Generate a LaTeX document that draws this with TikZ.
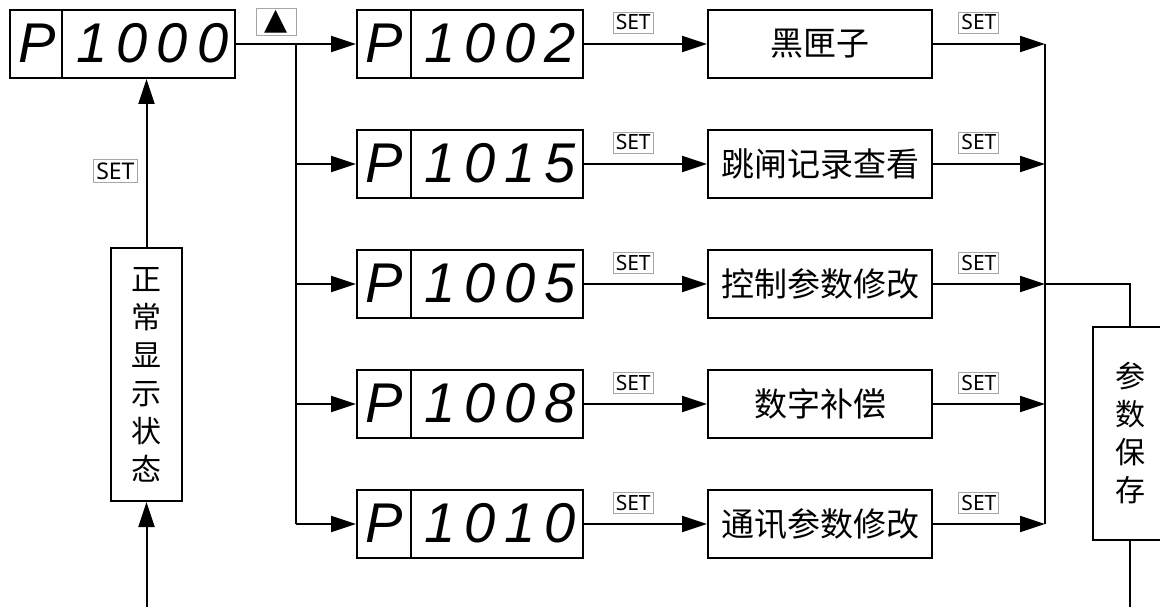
\documentclass[tikz,border=0pt]{standalone}
\usepackage{fontspec}
\setmainfont{Noto Sans}
\newfontfamily\cjk{Noto Sans CJK SC}
\newfontfamily\segfont{Liberation Sans}[LetterSpace=16]
\newfontfamily\symfont{DejaVu Sans}
\usetikzlibrary{arrows.meta,calc}
\tikzset{
  disp/.style={draw, line width=2pt, minimum width=226pt, minimum height=68pt, inner sep=0pt},
  func/.style={draw, line width=2pt, minimum width=224pt, minimum height=68pt, inner sep=0pt,
    font=\cjk\fontsize{33}{40}\selectfont},
  vbox/.style={draw, line width=2pt, inner sep=0pt, align=center,
    font=\cjk\fontsize{30}{38}\selectfont},
  segtxt/.style={inner sep=0pt, font=\segfont\itshape\fontsize{56}{56}\selectfont},
  setlbl/.style={draw=gray!70, line width=1pt, inner sep=2.5pt, font=\fontsize{21}{21}\selectfont,
    text height=15pt, text depth=1pt},
  conn/.style={line width=2pt},
  arr/.style={conn, -{Triangle[length=25pt,width=16pt]}},
}
\begin{document}
\begin{tikzpicture}[x=1pt,y=-1pt]
\useasboundingbox (0,0) rectangle (1160,607);
% displays
\node[disp, minimum width=225pt] (d0) at (122.5,44) {};
\foreach \i/\y in {1/44,2/164,3/284,4/404,5/524}{
  \node[disp] (d\i) at (470,\y) {};
}
\foreach \i/\w/\num in {0/53/1000,1/55/1002,2/55/1015,3/55/1005,4/55/1008,5/55/1010}{
  \draw[line width=2pt] ([xshift=\w pt]d\i.north west) -- ([xshift=\w pt]d\i.south west);
  \node[segtxt] (p\i) at ([xshift=28pt,yshift=1pt]d\i.west) {P};
  \node[segtxt] (n\i) at ([xshift=30pt,yshift=1pt]d\i.center) {\num};
}
% function boxes
\node[func] (f1) at (820,44) {黑匣子};
\node[func] (f2) at (820,164) {跳闸记录查看};
\node[func] (f3) at (820,284) {控制参数修改};
\node[func] (f4) at (820,404) {数字补偿};
\node[func] (f5) at (820,524) {通讯参数修改};
% vertical boxes
\node[vbox, minimum width=71pt, minimum height=253pt] (ns) at (146.5,374.5) {正\\常\\显\\示\\状\\态};
\node[vbox, minimum width=74pt, minimum height=213pt] (ps) at (1130,433.5) {参\\数\\保\\存};
% junctions
\foreach \i/\y in {1/44,2/164,3/284,4/404,5/524}{
  \coordinate (j\i) at (296,\y);
  \coordinate (k\i) at (1045,\y);
}
\coordinate (sb) at (1130,615);
\coordinate (nb) at (146.5,615);
\coordinate (t2) at (1130,284);
% connectors
\draw[conn] (d0.east) -- node[pos=0.67, above=8pt, draw=gray!70, line width=1pt, minimum width=40pt, minimum height=27pt, inner sep=0pt, font=\symfont\fontsize{30}{30}\selectfont] (up) {▲} (j1);
\draw[conn] (j1) -- (j5);
\draw[conn] (k1) -- (k5);
\foreach \i in {1,...,5}{
  \draw[arr] (j\i) -- (d\i.west);
  \draw[arr] (d\i.east) -- node[pos=0.4, above=10pt, setlbl] (sa\i) {SET} (f\i.west);
  \draw[arr] (f\i.east) -- node[pos=0.41, above=10pt, setlbl] (sb\i) {SET} (k\i);
}
\draw[conn] (k3) -- (t2) -- (ps.north);
\draw[conn] (ps.south) -- (sb);
\draw[arr] (nb) -- (ns.south);
\draw[arr] (ns.north) -- node[pos=0.45, left=9pt, setlbl, font=\fontsize{23}{23}\selectfont, text height=17pt] (sl) {SET} (ns.north |- d0.south);
\end{tikzpicture}
\end{document}
